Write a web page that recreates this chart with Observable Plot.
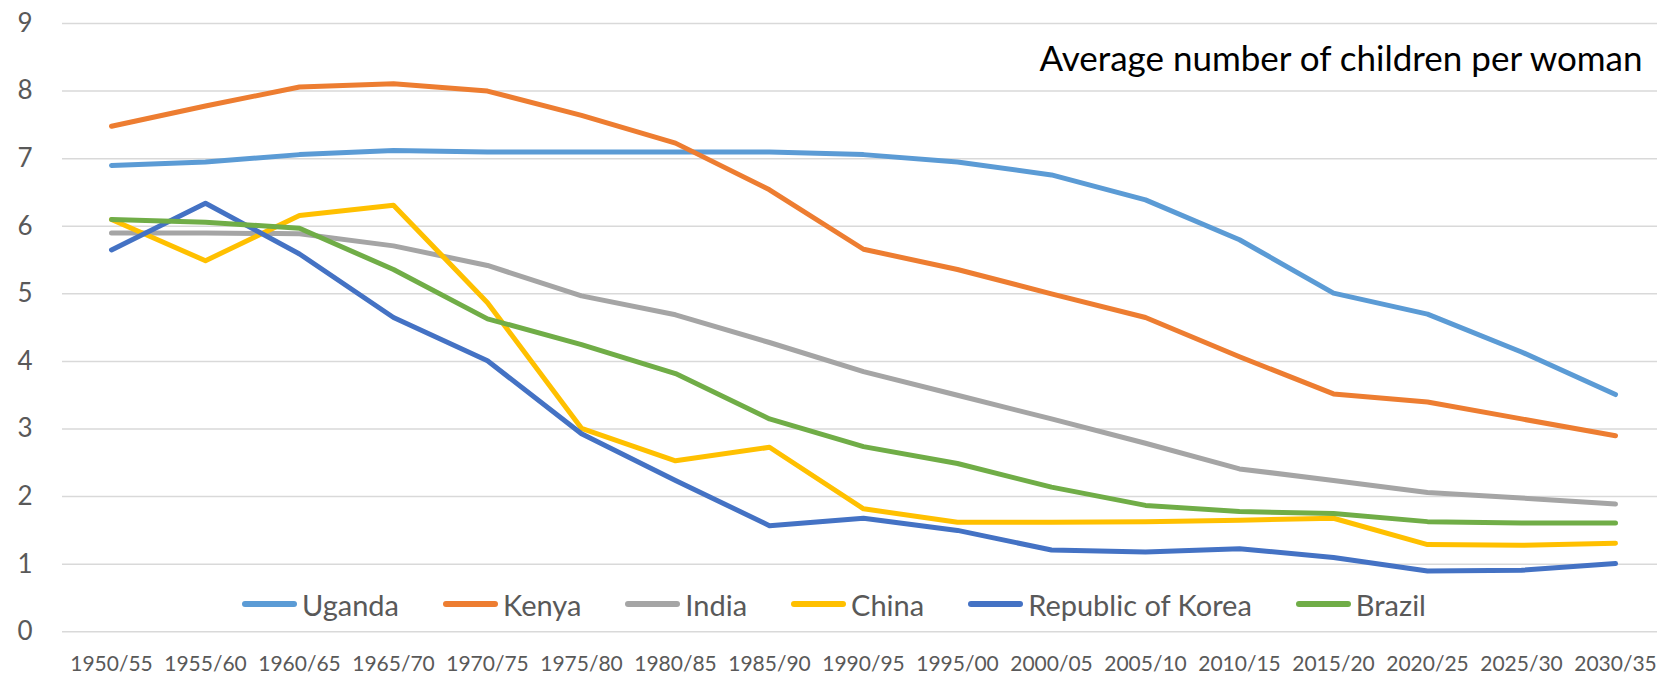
<!DOCTYPE html>
<html>
<head>
<meta charset="utf-8">
<script src="https://cdn.jsdelivr.net/npm/d3@7"></script>
<script src="https://cdn.jsdelivr.net/npm/@observablehq/plot@0.6"></script>
<style>
  html, body { margin: 0; padding: 0; background: #fff; }
  #wrap { position: relative; width: 1657px; height: 676px; overflow: hidden; font-family: Lato, sans-serif; }
  #legend { position: absolute; left: 0; top: 589px; height: 30px; display: flex; align-items: center; color: #595959; font-size: 29px; }
  .item { display: flex; align-items: center; margin-right: 44px; white-space: nowrap; }
  .item:last-child { margin-right: 0; }
  .sw { display: inline-block; width: 55px; height: 6px; border-radius: 3px; margin-right: 5px; }
</style>
</head>
<body>
<div id="wrap"></div>
<script>
const periods = ["1950/55","1955/60","1960/65","1965/70","1970/75","1975/80","1980/85","1985/90","1990/95","1995/00","2000/05","2005/10","2010/15","2015/20","2020/25","2025/30","2030/35"];
const countries = ["Uganda","Kenya","India","China","Republic of Korea","Brazil"];
const colors = ["#5B9BD5","#ED7D31","#A5A5A5","#FFC000","#4472C4","#70AD47"];
const uganda = [6.90,6.95,7.06,7.12,7.10,7.10,7.10,7.10,7.06,6.95,6.76,6.39,5.80,5.01,4.70,4.14,3.51];
const kenya  = [7.48,7.78,8.06,8.11,8.00,7.64,7.23,6.54,5.66,5.36,5.00,4.65,4.07,3.52,3.40,3.15,2.90];
const india  = [5.90,5.90,5.89,5.71,5.42,4.97,4.69,4.28,3.85,3.50,3.15,2.79,2.41,2.24,2.06,1.98,1.89];
const china  = [6.10,5.49,6.16,6.31,4.87,3.01,2.53,2.73,1.82,1.62,1.62,1.63,1.65,1.68,1.29,1.28,1.31];
const korea  = [5.65,6.34,5.59,4.65,4.01,2.93,2.24,1.57,1.68,1.50,1.21,1.18,1.23,1.10,0.90,0.91,1.01];
const brazil = [6.10,6.06,5.97,5.36,4.63,4.25,3.82,3.15,2.74,2.49,2.14,1.87,1.78,1.75,1.63,1.61,1.61];
const yTicks = [0,1,2,3,4,5,6,7,8,9];
const title = "Average number of children per woman";

const series = [uganda, kenya, india, china, korea, brazil];
const data = [];
countries.forEach((c, i) => periods.forEach((p, j) => data.push({country: c, period: p, value: series[i][j]})));

const chart = Plot.plot({
  width: 1657,
  height: 676,
  marginLeft: 62,
  marginRight: 0,
  marginTop: 23,
  marginBottom: 44.7,
  style: {fontFamily: "Lato, sans-serif", fontSize: "21px", color: "#595959", background: "#fff"},
  x: {type: "point", domain: periods, range: [108.3, 1616.7], padding: 0, label: null},
  y: {domain: [0, 9], label: null},
  color: {domain: countries, range: colors},
  marks: [
    Plot.gridY(yTicks, {stroke: "#D9D9D9", strokeOpacity: 1, strokeWidth: 1.5}),
    Plot.axisX({tickSize: 0, tickPadding: 24, fontSize: 21, label: null}),
    Plot.axisY(yTicks, {tickSize: 0, tickPadding: 30, fontSize: 26, tickFormat: d3.format("d"), label: null}),
    Plot.line(data, {x: "period", y: "value", z: "country", stroke: "country", strokeWidth: 5, strokeLinecap: "round", strokeLinejoin: "round"}),
    Plot.text([title], {text: d => d, frameAnchor: "top-right", textAnchor: "end", lineAnchor: "bottom", dx: -15, dy: 47.7, fontSize: 35, fill: "#000"})
  ]
});
const wrap = document.getElementById("wrap");
wrap.appendChild(chart);

const legend = document.createElement("div");
legend.id = "legend";
countries.forEach((c, i) => {
  const item = document.createElement("div");
  item.className = "item";
  const sw = document.createElement("span");
  sw.className = "sw";
  sw.style.background = colors[i];
  const lab = document.createElement("span");
  lab.textContent = c;
  item.appendChild(sw);
  item.appendChild(lab);
  legend.appendChild(item);
});
wrap.appendChild(legend);
const items = legend.children;
let total = 0;
for (const it of items) total += it.getBoundingClientRect().width;
total += 44 * (items.length - 1);
legend.style.left = Math.max(0, 834 - total / 2) + "px";
</script>
</body>
</html>
